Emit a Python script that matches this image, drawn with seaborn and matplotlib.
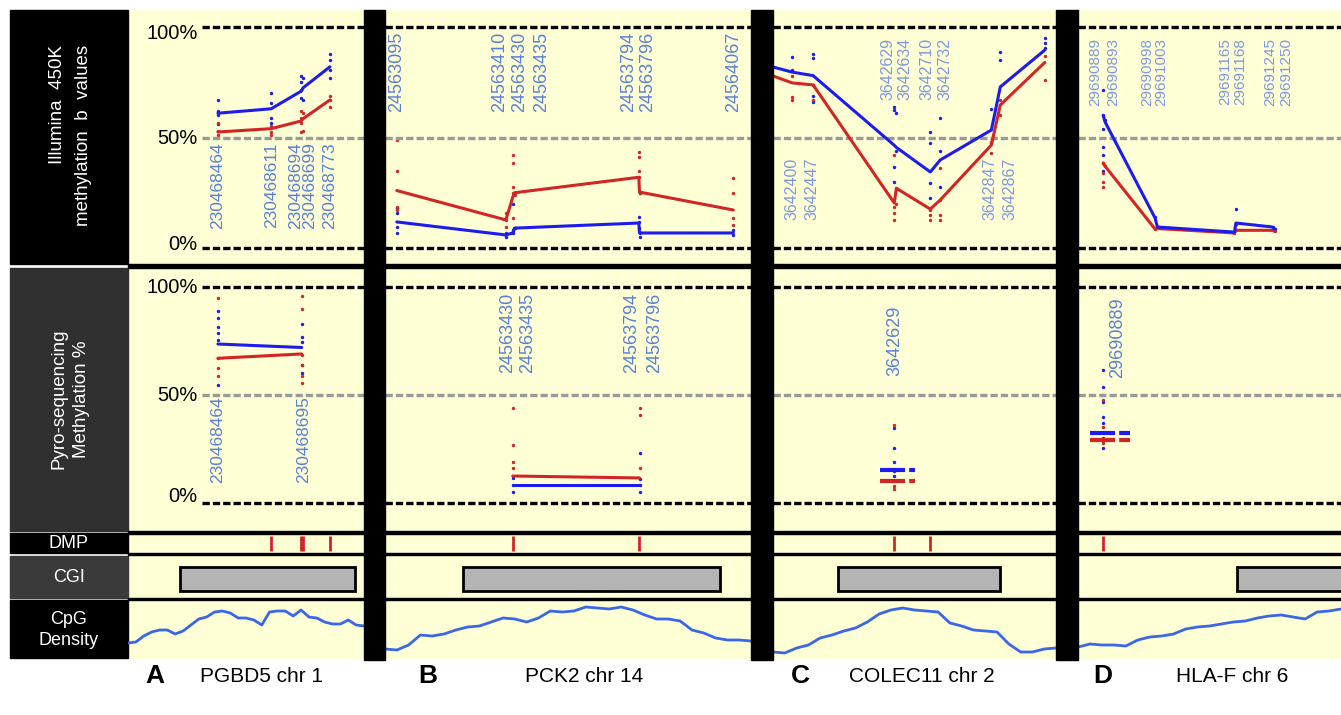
import pandas as pd
import matplotlib
matplotlib.use("Agg")
import matplotlib.pyplot as plt
from matplotlib.patches import Rectangle
from matplotlib.transforms import offset_copy
import numpy as np
import seaborn as sns

# ---------------- A  PGBD5 chr 1 ----------------
A_pos = [230468464, 230468611, 230468694, 230468699, 230468773]
A_blue = [61, 63, 71, 72.5, 82]
A_red = [52.5, 54, 57.5, 58.5, 67]
A_blue_dots = [[67, 62, 60, 56], [70, 65.5, 59, 56.5], [78, 75, 71.5, 68], [77, 67], [88, 85, 80.5, 77]]
A_red_dots = [[56.5, 53, 51], [55, 52.5, 51], [62, 59, 56.5, 52.5], [61, 53], [69, 67, 64]]
A_pyro_pos = [230468464, 230468695]
A_pyro_blue = [73.6, 72]
A_pyro_red = [67, 69]
A_pyro_blue_dots = [[89, 85.6, 81.5, 78.7, 75.5, 54.6], [83, 77, 74.5, 64, 60]]
A_pyro_red_dots = [[95, 67, 62.5, 59], [96, 90, 68.5, 64, 59, 55.6]]
A_dmp = [230468611, 230468694, 230468699, 230468773]
A_cgi = [230468359, 230468842]
A_cpg = [14, 15, 21, 25, 27, 27, 23, 26, 32, 38, 40, 45, 46, 44, 39, 39, 37, 32,
         45, 46, 46, 41, 47, 40, 39, 35, 33, 33, 37, 32, 31]

# ---------------- B  PCK2 chr 14 ----------------
B_pos = [24563095, 24563410, 24563430, 24563435, 24563794, 24563796, 24564067]
B_blue = [11.8, 5.9, 6.8, 9, 11.3, 6.8, 6.8]
B_red = [26, 12.7, 23, 25, 32, 25.3, 17.2]
B_blue_dots = [[18, 16, 9.5, 6.8], [6.8, 5], [20, 8, 6.8], [9], [14, 11.8, 9], [24.9, 6.8, 5], [8, 6]]
B_red_dots = [[49, 35, 18.5, 17], [16, 12.7, 9.5], [42, 38.5, 27.6, 25, 13.6], [24],
              [43.4, 41, 35, 32], [25], [31.7, 24.9, 13.6, 10.4]]
B_pyro_pos = [24563430, 24563796]
B_pyro_blue = [8.3, 8.3]
B_pyro_red = [12.5, 11.6]
B_pyro_blue_dots = [[11.6, 8.3, 5], [23, 11, 8.3, 5]]
B_pyro_red_dots = [[44, 27, 19, 16], [44, 40.7, 16]]
B_dmp = [24563430, 24563794]
B_cgi = [24563285, 24564029]
B_cpg = [8, 7, 12, 22, 21, 23, 27, 30, 31, 35, 39, 38, 35, 39, 46, 45, 46, 50, 49,
         48, 50, 47, 42, 38, 38, 36, 27, 24, 19, 17, 17, 16]

# ---------------- C  COLEC11 chr 2 ----------------
C_pos = [3642355, 3642400, 3642447, 3642629, 3642634, 3642710, 3642732, 3642847, 3642867, 3642967]
C_blue = [82, 79.6, 78, 46.5, 45.5, 34.4, 39.8, 53.4, 72.9, 89.6]
C_red = [78, 74.7, 73.8, 20.4, 27, 17.6, 21.7, 46.6, 64.7, 84]
C_blue_dots = [[], [86.5, 80.5], [88, 86, 69, 66], [64, 62.4, 36.7, 30], [61, 44], [52.5, 47.5, 29.4, 22.6],
               [58.8, 44, 27.6], [63, 47.5], [88.7, 85], [95, 92.8, 90.5]]
C_red_dots = [[], [78, 68.3, 67], [73.8, 67], [42, 18.5, 15.8, 12.7], [27, 20], [17, 15, 12.7],
              [36, 21.7, 15, 12.7], [43, 48], [67, 60], [87, 76]]
C_pyro_pos = [3642629]
C_pyro_blue = [15.3]
C_pyro_red = [10.2]
C_pyro_blue_dots = [[34.7, 25.5, 19, 15, 12.5]]
C_pyro_red_dots = [[36, 10, 8, 6.5]]
C_dmp = [3642629, 3642710]
C_cgi = [3642503, 3642866]
C_cpg = [5, 4, 9, 12, 19, 22, 26, 29, 35, 43, 47, 49, 47, 46, 45, 34, 31, 27, 26, 25, 13, 5, 5, 8, 9]

# ---------------- D  HLA-F chr 6 ----------------
D_pos = [29690889, 29690893, 29690998, 29691003, 29691165, 29691168, 29691245, 29691250]
D_blue = [60, 57, 13.6, 9.5, 7.2, 11.3, 9.5, 8.5]
D_red = [38.5, 37, 8.6, 8.8, 6.8, 8, 8, 7.5]
D_blue_dots = [[71.5, 60, 54, 45.7, 42, 35], [58], [14], [9.5], [7.2], [17.6, 11], [9.5], [8.5]]
D_red_dots = [[38.5, 34, 30, 27.6], [37], [8.6], [9], [6.8], [8], [8], [7.5]]
D_pyro_pos = [29690889]
D_pyro_blue = [32.4]
D_pyro_red = [29.2]
D_pyro_blue_dots = [[61.6, 53.7, 46.8, 39.8, 37, 30, 25.5]]
D_pyro_red_dots = [[50, 47.7, 35, 28]]
D_dmp = [29690889]
D_cgi = [29691170, 29691500]
D_cpg = [10, 13, 12, 12, 11, 17, 20, 21, 23, 28, 30, 31, 33, 35, 36, 39, 41, 42, 40, 38, 45, 46, 48]

panel_titles = ["A", "B", "C", "D"]
gene_labels = ["PGBD5 chr 1", "PCK2 chr 14", "COLEC11 chr 2", "HLA-F chr 6"]
ytick_labels = ["100%", "50%", "0%"]

# ---------------- style / layout ----------------
sns.set_theme(style="white")
plt.rcParams["font.family"] = ["Liberation Sans", "DejaVu Sans"]

YELLOW = "#FFFFD6"
BLUE = "#1c1cf0"
RED = "#d22525"
LBL = "#5a80d8"
LBL_LIGHT = "#7d98e0"
CPG = "#3a66ea"
DASH = (0, (2.2, 0.9))

W, H = 1341, 715
fig = plt.figure(figsize=(W / 100, H / 100), dpi=100)


def px_axes(x0, y0, x1, y1, z=1):
    ax = fig.add_axes([x0 / W, 1 - y1 / H, (x1 - x0) / W, (y1 - y0) / H], zorder=z)
    ax.set_axis_off()
    return ax


# pixel extents of the four panels and matching genomic ranges
panel_px = {"A": (128, 364), "B": (385, 751), "C": (773, 1056), "D": (1078, 1341)}
panel_xlim = {"A": (230468216, 230468867), "B": (24563061, 24564118),
              "C": (3642357, 3642992), "D": (29690836, 29691389)}
ROW_TOP = (10, 264)
ROW_MID = (268, 531)
ROW_DMP = (533, 553)
ROW_CGI = (555, 598)
ROW_CPG = (600, 658)

data = {
    "A": dict(pos=A_pos, blue=A_blue, red=A_red, bd=A_blue_dots, rd=A_red_dots,
              ppos=A_pyro_pos, pblue=A_pyro_blue, pred=A_pyro_red, pbd=A_pyro_blue_dots, prd=A_pyro_red_dots,
              dmp=A_dmp, cgi=A_cgi, cpg=A_cpg),
    "B": dict(pos=B_pos, blue=B_blue, red=B_red, bd=B_blue_dots, rd=B_red_dots,
              ppos=B_pyro_pos, pblue=B_pyro_blue, pred=B_pyro_red, pbd=B_pyro_blue_dots, prd=B_pyro_red_dots,
              dmp=B_dmp, cgi=B_cgi, cpg=B_cpg),
    "C": dict(pos=C_pos, blue=C_blue, red=C_red, bd=C_blue_dots, rd=C_red_dots,
              ppos=C_pyro_pos, pblue=C_pyro_blue, pred=C_pyro_red, pbd=C_pyro_blue_dots, prd=C_pyro_red_dots,
              dmp=C_dmp, cgi=C_cgi, cpg=C_cpg),
    "D": dict(pos=D_pos, blue=D_blue, red=D_red, bd=D_blue_dots, rd=D_red_dots,
              ppos=D_pyro_pos, pblue=D_pyro_blue, pred=D_pyro_red, pbd=D_pyro_blue_dots, prd=D_pyro_red_dots,
              dmp=D_dmp, cgi=D_cgi, cpg=D_cpg),
}

# label groups: (positions, pixel nudges, anchor y in %, va, fontsize, colour)
top_labels = {
    "A": [(A_pos, [0, 0, -6, 7, 0], 48, "top", 12.5, LBL)],
    "B": [(B_pos, [0, -6, 7, 27, -10, 8, 0], 97.7, "top", 13, LBL)],
    "C": [([3642400, 3642447], [0, -1], 40.7, "top", 11.5, LBL_LIGHT),
          ([3642629, 3642634, 3642710, 3642732], [-6, 9, -3, 5], 95, "top", 11.5, LBL_LIGHT),
          ([3642847, 3642867], [-1, 10], 40.7, "top", 11.5, LBL_LIGHT)],
    "D": [(D_pos, [-8, 8, -8, 4, -9, 4, -2, 11], 95, "top", 11, LBL_LIGHT)],
}
mid_labels = {
    "A": [(A_pyro_pos, [0, 2], 49.5, "top", 12.5, LBL)],
    "B": [([24563430, 24563435, 24563794, 24563796], [-5, 13, -7, 15], 60, "bottom", 13, LBL)],
    "C": [(C_pyro_pos, [1], 59, "bottom", 13, LBL)],
    "D": [(D_pyro_pos, [14], 58, "bottom", 13, LBL)],
}


def ref_lines(ax, xmin=0.0):
    ax.axhline(100, xmin=xmin, color="black", lw=2.4, ls=DASH)
    ax.axhline(50, xmin=xmin, color="#9a9a9a", lw=2.4, ls=DASH)
    ax.axhline(0, xmin=xmin, color="black", lw=2.4, ls=DASH)


def dots(ax, pos, dot_lists, color):
    xs, ys = [], []
    for p, vals in zip(pos, dot_lists):
        xs += [p] * len(vals)
        ys += list(vals)
    if xs:
        sns.scatterplot(x=xs, y=ys, color=color, s=6, linewidth=0, ax=ax, legend=False)


def labels(ax, groups):
    for positions, nudges, y, va, size, color in groups:
        for p, dx in zip(positions, nudges):
            tr = offset_copy(ax.transData, fig=fig, x=dx, y=0, units="dots")
            ax.text(p, y, str(p), rotation=90, ha="center", va=va, fontsize=size,
                    color=color, transform=tr, clip_on=False)


def short_dash(ax, pos, val, left_px, right_px, color):
    x0, x1 = ax.get_xlim()
    bp = (x1 - x0) / ax.bbox.width
    ax.plot([pos - left_px * bp, pos + right_px * bp], [val, val], color=color,
            lw=3, ls=(0, (6, 1)), solid_capstyle="butt")


# ---------------- background ----------------
bg = px_axes(0, 0, W, H, z=0)
bg.set_xlim(0, W)
bg.set_ylim(H, 0)
bg.add_patch(Rectangle((128, 10), W - 128, 648, color=YELLOW))
for (y0, y1), col in [(ROW_TOP, "black"), ((268, 531), "#303030"), ((533, 553), "black"),
                      ((556, 598), "#3a3a3a"), ((600, 658), "black")]:
    bg.add_patch(Rectangle((10, y0), 118, y1 - y0, color=col))
bg.text(58, 45, "Illumina  450K", rotation=90, ha="center", va="top", color="white", fontsize=13.5)
bg.text(84, 45, "methylation  b  values", rotation=90, ha="center", va="top", color="white", fontsize=13.5)
bg.text(70, 399, "Pyro-sequencing\nMethylation %", rotation=90, ha="center", va="center",
        color="white", fontsize=13.5, linespacing=1.45)
bg.text(69, 544, "DMP", ha="center", va="center", color="white", fontsize=13)
bg.text(69, 578, "CGI", ha="center", va="center", color="white", fontsize=13)
bg.text(69, 630, "CpG\nDensity", ha="center", va="center", color="white", fontsize=13, linespacing=1.3)

letter_x = [155, 428, 800, 1103]
gene_x = [262, 584, 922, 1232]
for t, lx, g, gx in zip(panel_titles, letter_x, gene_labels, gene_x):
    bg.text(lx, 676, t, ha="center", va="center", fontsize=19, fontweight="bold", color="black")
    bg.text(gx, 677, g, ha="center", va="center", fontsize=15, color="black")

# ---------------- panels ----------------
for key, d in data.items():
    x0, x1 = panel_px[key]
    xlim = panel_xlim[key]
    xmin = (202 - x0) / (x1 - x0) if key == "A" else 0.0

    # Illumina 450K row
    ax = px_axes(x0, ROW_TOP[0], x1, ROW_TOP[1])
    ax.set_xlim(*xlim)
    ax.set_ylim(-7.24, 107.7)
    ref_lines(ax, xmin)
    dots(ax, d["pos"], d["bd"], BLUE)
    dots(ax, d["pos"], d["rd"], RED)
    sns.lineplot(x=d["pos"], y=d["red"], color=RED, lw=2.2, ax=ax)
    sns.lineplot(x=d["pos"], y=d["blue"], color=BLUE, lw=2.2, ax=ax)
    labels(ax, top_labels[key])
    if key == "A":
        for lab, yv in zip(ytick_labels, [97, 49.5, 1.5]):
            ax.text(0.295, yv, lab, transform=ax.get_yaxis_transform(), ha="right", va="center",
                    fontsize=14.5, color="black")

    # Pyro-sequencing row
    ax = px_axes(x0, ROW_MID[0], x1, ROW_MID[1])
    ax.set_xlim(*xlim)
    ax.set_ylim(-12.96, 108.8)
    ref_lines(ax, xmin)
    dots(ax, d["ppos"], d["pbd"], BLUE)
    dots(ax, d["ppos"], d["prd"], RED)
    if len(d["ppos"]) > 1:
        sns.lineplot(x=d["ppos"], y=d["pred"], color=RED, lw=2.2, ax=ax)
        sns.lineplot(x=d["ppos"], y=d["pblue"], color=BLUE, lw=2.2, ax=ax)
    else:
        left, right = (14, 21) if key == "C" else (13, 27)
        short_dash(ax, d["ppos"][0], d["pblue"][0], left, right, BLUE)
        short_dash(ax, d["ppos"][0], d["pred"][0], left, right, RED)
    labels(ax, mid_labels[key])
    if key == "A":
        for lab, yv in zip(ytick_labels, [100, 50, 3]):
            ax.text(0.295, yv, lab, transform=ax.get_yaxis_transform(), ha="right", va="center",
                    fontsize=14.5, color="black")

    # DMP row
    ax = px_axes(x0, ROW_DMP[0], x1, ROW_DMP[1])
    ax.set_xlim(*xlim)
    ax.set_ylim(0, 1)
    ax.vlines(d["dmp"], 0.1, 0.85, color=RED, lw=2)

    # CGI row
    ax = px_axes(x0, ROW_CGI[0], x1, ROW_CGI[1])
    ax.set_xlim(*xlim)
    ax.set_ylim(0, 1)
    s, e = d["cgi"]
    ax.add_patch(Rectangle((s, 0.163), e - s, 0.558, facecolor="#b4b4b4", edgecolor="black", lw=2))

    # CpG density row
    ax = px_axes(x0, ROW_CPG[0], x1, ROW_CPG[1])
    ax.set_xlim(*xlim)
    ax.set_ylim(-1, 57)
    cx = np.linspace(xlim[0], xlim[1], len(d["cpg"]))
    sns.lineplot(x=cx, y=d["cpg"], color=CPG, lw=2, ax=ax)

# ---------------- overlay: separators & row rules ----------------
ov = px_axes(0, 0, W, H, z=10)
ov.set_xlim(0, W)
ov.set_ylim(H, 0)
for sx0, sx1 in [(364, 385), (751, 773), (1056, 1078)]:
    ov.add_patch(Rectangle((sx0, 10), sx1 - sx0, 650, color="black"))
for y0, h in [(264, 4), (531, 2.5), (552.5, 2), (597.5, 2.5)]:
    ov.add_patch(Rectangle((128, y0), W - 128, h, color="black"))

fig.savefig("out.png", dpi=100)
